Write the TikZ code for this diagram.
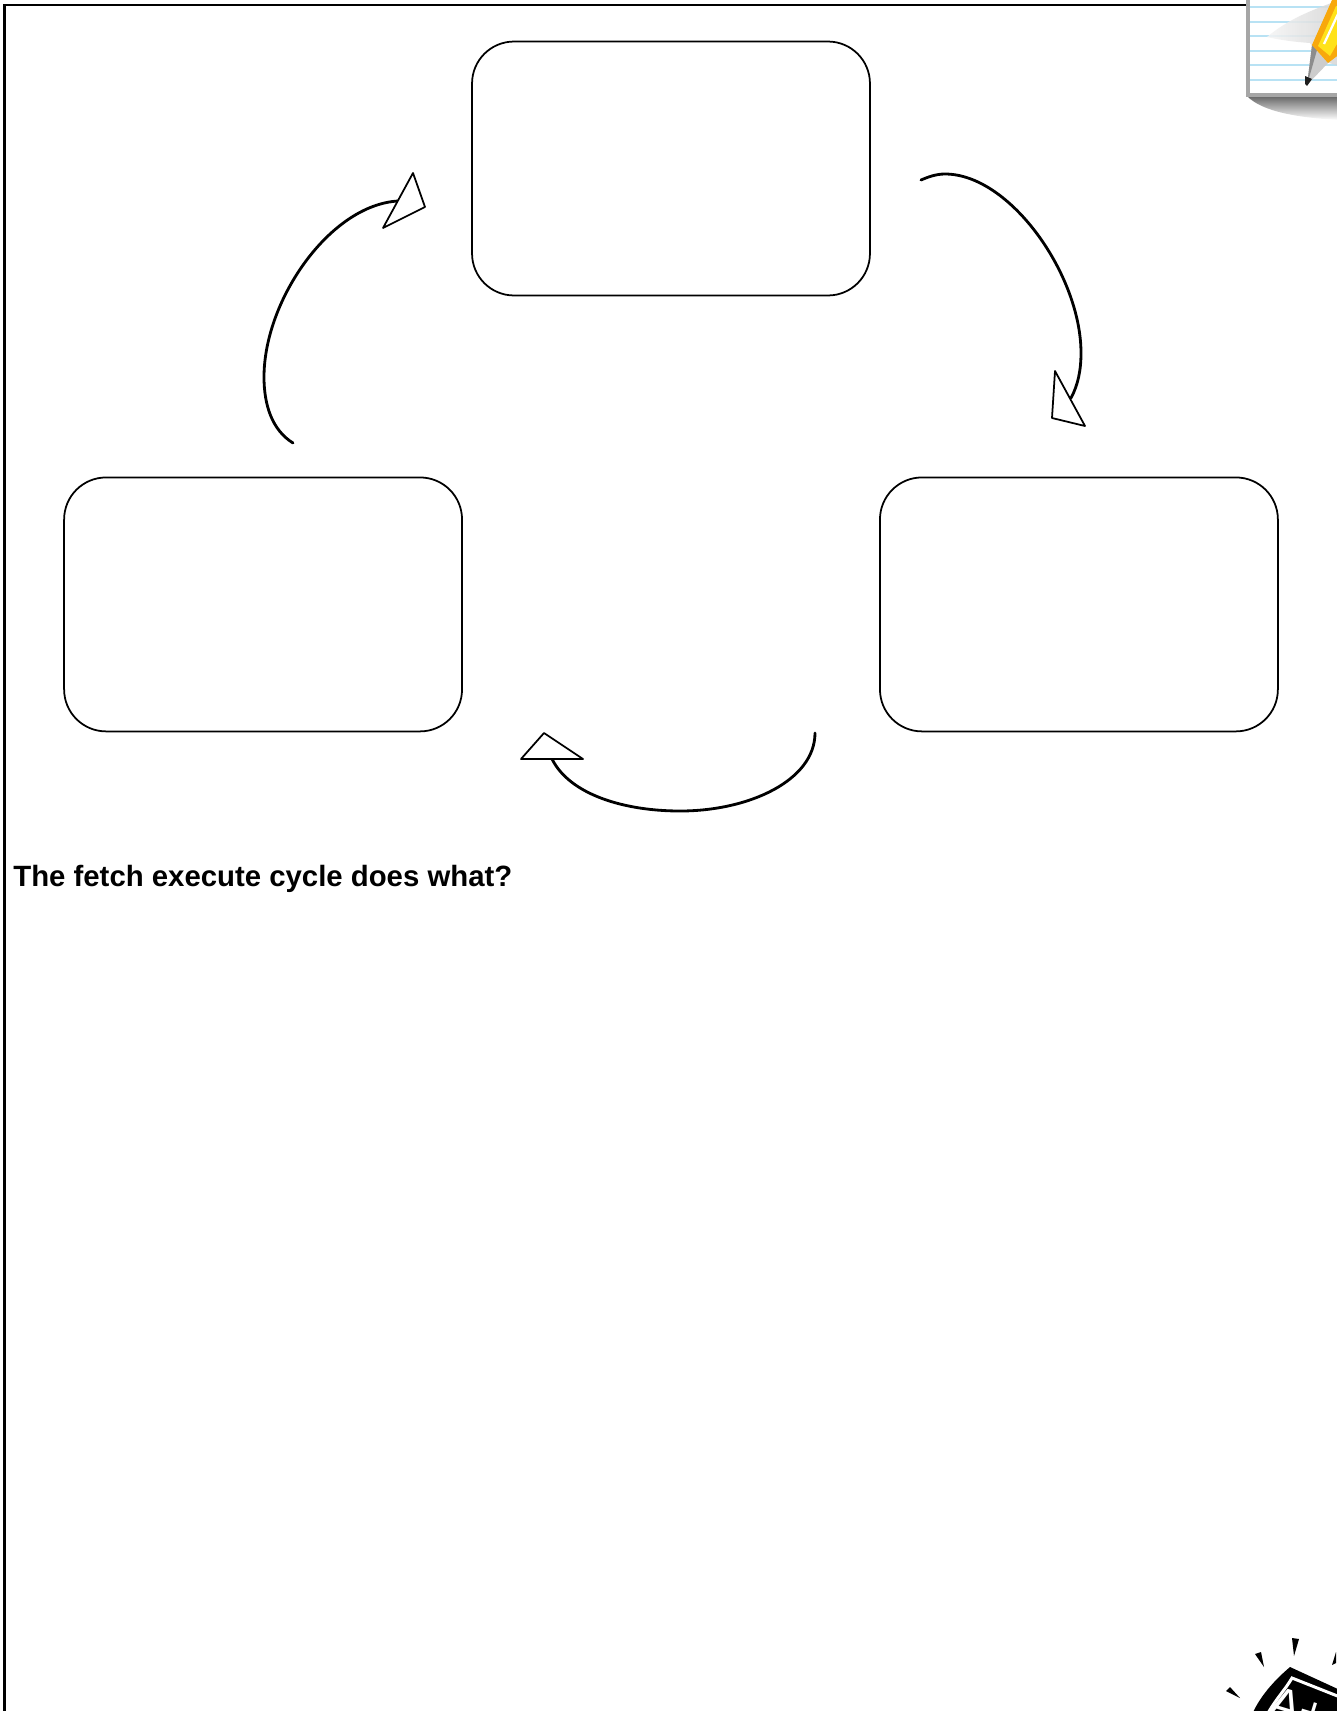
\documentclass[tikz,border=0pt]{standalone}
\usepackage{fontspec}
\setmainfont{Liberation Sans}
\usetikzlibrary{positioning}
\definecolor{paperline}{HTML}{B8E2F4}
\definecolor{pencilbody}{HTML}{F8A80C}
\definecolor{pencillight}{HTML}{FFE21A}

\begin{document}
\begin{tikzpicture}[
  x=0.02cm, y=-0.02cm,
  cyclebox/.style={rectangle, rounded corners=0.84cm, draw=black, line width=1pt,
                   minimum width=7.96cm, minimum height=5.08cm, outer sep=0pt},
  link/.style={line width=1.6pt, draw=black, line cap=round},
  head/.style={draw=black, fill=white, line width=1pt, line join=round},
  frameline/.style={line width=1.7pt, draw=black},
  question/.style={font=\fontsize{16.7}{20}\selectfont\bfseries, anchor=base west, inner sep=0pt},
  ray/.style={fill=black},
]
\useasboundingbox (0,0) rectangle (1336,1711);

\draw[frameline] (4.5,1711) -- (4.5,5) -- (1250,5);

\node[cyclebox] (fetch) at (671,168.5) {};
\node[cyclebox, below right=3.64cm and 0.2cm of fetch.south east] (decode) {};
\node[cyclebox, below left=3.64cm and 0.2cm of fetch.south west] (execute) {};

\node[question] (ask) at (13,886) {The fetch execute cycle does what?};

% connectors
\coordinate (fetchout) at (921,180);
\coordinate (decodetop) at (945,174);
\coordinate (decodeside) at (1081,353);
\coordinate (decodein) at (1071,398);
\coordinate (decodeout) at (815,733);
\coordinate (executelow) at (680,811);
\coordinate (executein) at (552,759);
\coordinate (executeout) at (293,443);
\coordinate (fetchside) at (264,377);
\coordinate (fetchin) at (398,201);

\draw[link] (fetchout) .. controls (928,177) and (936,174) .. (decodetop)
  .. controls (1010,174) and (1081,275) .. (decodeside)
  .. controls (1081,370) and (1078,385) .. (decodein);
\draw[link] (decodeout) .. controls (815,780) and (750,811) .. (executelow)
  .. controls (625,811) and (570,795) .. (executein);
\draw[link] (executeout) .. controls (272,430) and (264,405) .. (fetchside)
  .. controls (264,300) and (330,205) .. (fetchin);

\draw[head] (1055,371) -- (1085,426) -- (1052,418) -- cycle;
\draw[head] (544,733) -- (583,759) -- (521,759) -- cycle;
\draw[head] (413,173) -- (425,207) -- (383,228) -- cycle;

% notepad
\shade[top color=black!60, bottom color=white] (1247,96) -- (1340,96) -- (1340,120)
  .. controls (1300,118) and (1262,112) .. (1247,96);
\fill[white] (1248,-5) rectangle (1340,95);
\foreach \liney in {7,22,36,51,65,80}
  \draw[paperline, line width=1.6pt] (1250,\liney) -- (1340,\liney);
\shade[left color=black!4, right color=black!17, fill opacity=0.85] (1267,37)
  .. controls (1285,22) and (1305,12) .. (1340,0) -- (1340,66) -- (1325,62) -- (1310,43)
  .. controls (1295,42) and (1280,40) .. (1267,37);
\draw[black!35, line width=1.9pt] (1248,-5) -- (1248,95) -- (1340,95);
\fill[black!20] (1312,45) -- (1328,63) -- (1307,85) -- cycle;
\fill[black!45] (1312,45) -- (1317,50) -- (1307,85) -- cycle;
\fill[black!88] (1305,76) -- (1312,79) -- (1307,86) -- (1305,84) -- cycle;
\fill[pencilbody] (1312,45) -- (1332,0) -- (1345,0) -- (1345,50) -- (1328,63) -- cycle;
\fill[pencillight] (1318,46) -- (1336,6) -- (1345,6) -- (1345,30) -- (1330,56) -- cycle;
\draw[white, line width=1.3pt] (1324,44) -- (1338,14);

% badge
\fill[ray] (1292,1638) -- (1299,1639) -- (1294,1656) -- cycle;
\fill[ray] (1255,1654) -- (1261,1652) -- (1264,1667) -- cycle;
\fill[ray] (1226,1691) -- (1230,1687) -- (1240,1698) -- cycle;
\fill[ray] (1336,1652) -- (1332,1665) -- (1336,1663) -- cycle;
\fill[black] (1290,1667) -- (1340,1690) -- (1340,1720) -- (1250,1720)
  .. controls (1256,1702) and (1270,1684) .. (1290,1667);
\draw[white, line width=1.7pt] (1340,1697) -- (1292,1678)
  .. controls (1285,1690) and (1275,1700) .. (1267,1715);
\node[white, font=\fontsize{26}{30}\selectfont, rotate=-17, anchor=base west, inner sep=0pt]
  (grade) at (1266,1715) {A+};
\end{tikzpicture}
\end{document}
